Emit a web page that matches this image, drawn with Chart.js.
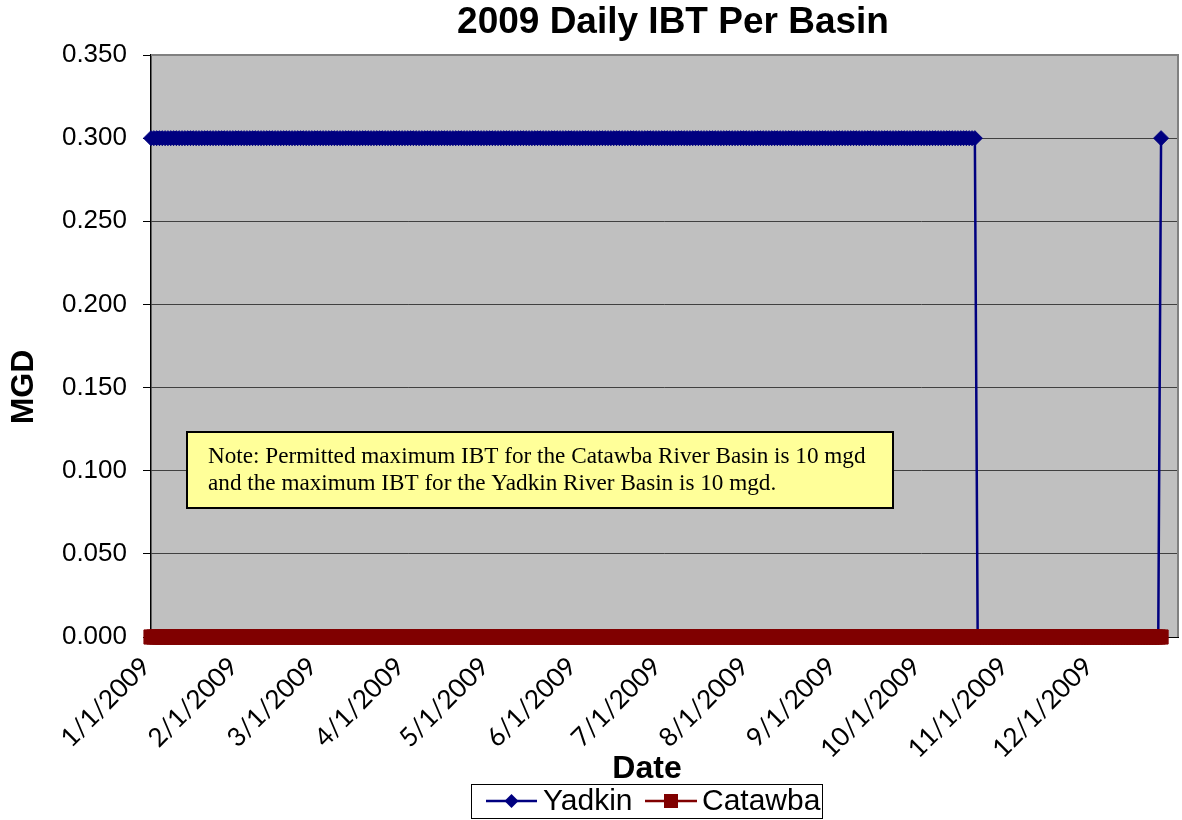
<!DOCTYPE html>
<html><head><meta charset="utf-8">
<script src="https://cdn.jsdelivr.net/npm/chart.js@4.4.0/dist/chart.umd.min.js"></script>
<style>html,body{margin:0;padding:0;background:#fff;}</style>
</head><body>
<canvas id="c" width="1182" height="820"></canvas>
<script>
// ---- text ----
const chartTitle = '2009 Daily IBT Per Basin';
const yAxisTitle = 'MGD';
const xAxisTitle = 'Date';
const seriesNames = ['Yadkin', 'Catawba'];
const seriesColors = ['#000080', '#800000'];
const noteLines = [
  'Note: Permitted maximum IBT for the Catawba River Basin is 10 mgd',
  'and the maximum IBT for the Yadkin River Basin is 10 mgd.'
];
// ---- axes ----
const yTickValues = [0, 0.05, 0.10, 0.15, 0.20, 0.25, 0.30, 0.35];
const year = 2009;
const daysInYear = 365;
const yadkinRuns = [[0.3, 293], [0, 65], [0.3, 1]];
const catawbaRuns = [[0, 359]];

// categories: every day of 2009 (M/D/YYYY)
const categories = [];
for (let i = 0; i < daysInYear; i++) {
  const d = new Date(year, 0, 1 + i);
  categories.push((d.getMonth() + 1) + '/' + d.getDate() + '/' + d.getFullYear());
}
function expandRuns(runs) {
  const out = [];
  runs.forEach(([v, n]) => { for (let k = 0; k < n; k++) out.push(v); });
  return out;
}
const yadkin = expandRuns(yadkinRuns);
const catawba = expandRuns(catawbaRuns);

const decor = {
  id: 'decor',
  beforeDraw(chart) {
    const {ctx, chartArea: a} = chart;
    ctx.save();
    ctx.fillStyle = '#C0C0C0';
    ctx.fillRect(a.left, a.top, a.right - a.left, a.bottom - a.top);
    ctx.restore();
  },
  afterDraw(chart) {
    const {ctx, chartArea: a} = chart;
    ctx.save();
    // plot border top/right
    ctx.strokeStyle = '#808080';
    ctx.lineWidth = 2;
    ctx.beginPath();
    ctx.moveTo(a.left, a.top); ctx.lineTo(a.right, a.top); ctx.lineTo(a.right, a.bottom);
    ctx.stroke();
    // titles
    ctx.fillStyle = '#000';
    ctx.textAlign = 'center';
    ctx.textBaseline = 'middle';
    ctx.font = 'bold 37px "Liberation Sans", Arial, sans-serif';
    ctx.fillText(chartTitle, 673, 23);
    ctx.font = 'bold 32px "Liberation Sans", Arial, sans-serif';
    ctx.fillText(xAxisTitle, 647, 769);
    ctx.save();
    ctx.translate(24, 387);
    ctx.rotate(-Math.PI / 2);
    ctx.fillText(yAxisTitle, 0, 0);
    ctx.restore();
    // note box
    ctx.fillStyle = '#FFFF99';
    ctx.fillRect(187, 432, 706, 76);
    ctx.strokeStyle = '#000';
    ctx.lineWidth = 2;
    ctx.strokeRect(187, 432, 706, 76);
    ctx.fillStyle = '#000';
    ctx.textAlign = 'left';
    ctx.textBaseline = 'alphabetic';
    ctx.font = '20px "Liberation Serif", serif';
    const w = ctx.measureText(noteLines[0]).width;
    const fs = 20 * 657 / w;
    ctx.font = fs.toFixed(1) + 'px "Liberation Serif", serif';
    ctx.fillText(noteLines[0], 208, 463);
    ctx.fillText(noteLines[1], 208, 490);
    // legend
    ctx.strokeStyle = '#000';
    ctx.lineWidth = 1;
    ctx.strokeRect(471.5, 784.5, 351, 34);
    const ly = 801;
    const items = [{x0: 486, x1: 537, tx: 543}, {x0: 645, x1: 697, tx: 702}];
    items.forEach((it, i) => {
      ctx.strokeStyle = seriesColors[i];
      ctx.fillStyle = seriesColors[i];
      ctx.lineWidth = 2.5;
      ctx.beginPath(); ctx.moveTo(it.x0, ly); ctx.lineTo(it.x1, ly); ctx.stroke();
      const cx = (it.x0 + it.x1) / 2;
      ctx.beginPath();
      if (i === 0) {
        ctx.moveTo(cx - 7, ly); ctx.lineTo(cx, ly - 7); ctx.lineTo(cx + 7, ly); ctx.lineTo(cx, ly + 7); ctx.closePath();
      } else {
        ctx.rect(cx - 7, ly - 7, 14, 14);
      }
      ctx.fill();
      ctx.fillStyle = '#000';
      ctx.font = '30px "Liberation Sans", Arial, sans-serif';
      ctx.textBaseline = 'middle';
      ctx.fillText(seriesNames[i], it.tx, ly + 1);
    });
    ctx.restore();
  }
};

new Chart(document.getElementById('c'), {
  type: 'line',
  data: {
    labels: categories,
    datasets: [
      {
        label: seriesNames[0], data: yadkin, order: 2,
        borderColor: seriesColors[0], backgroundColor: seriesColors[0],
        borderWidth: 2.5, pointStyle: 'rectRot', pointRadius: 7.5, pointBorderWidth: 1,
        pointHoverRadius: 7.5, tension: 0, clip: 12
      },
      {
        label: seriesNames[1], data: catawba, order: 1,
        borderColor: seriesColors[1], backgroundColor: seriesColors[1],
        borderWidth: 2.5, pointStyle: 'rect', pointRadius: 10, pointBorderWidth: 1,
        pointHoverRadius: 10, tension: 0, clip: 12
      }
    ]
  },
  options: {
    responsive: false,
    animation: false,
    devicePixelRatio: 1,
    events: [],
    layout: {autoPadding: false, padding: {top: 55, right: 4, left: 0, bottom: 0}},
    plugins: {legend: {display: false}, title: {display: false}, tooltip: {enabled: false}},
    scales: {
      x: {
        type: 'category',
        offset: false,
        grid: {display: false},
        border: {display: true, color: '#000', width: 1},
        afterFit(s) { s.height = 183; s.paddingRight = 0; s.paddingLeft = 0; },
        ticks: {
          autoSkip: false, maxRotation: 45, minRotation: 45, padding: 6, labelOffset: -5,
          color: '#000', font: {family: 'Lato', size: 26},
          callback(v, i) { const l = categories[i]; return l.split('/')[1] === '1' ? l : ''; }
        }
      },
      y: {
        min: 0, max: 0.35,
        afterFit(s) { s.width = 151; },
        afterBuildTicks(s) { s.ticks = yTickValues.map(v => ({value: v})); },
        grid: {color: '#404040', lineWidth: 1, tickLength: 8, tickColor: '#000', drawTicks: true},
        border: {display: true, color: '#000', width: 1.5},
        ticks: {
          padding: 16, color: '#000', font: {family: '"Liberation Sans"', size: 26},
          callback(v) { return Number(v).toFixed(3); }
        }
      }
    }
  },
  plugins: [decor]
});
</script>
</body></html>
